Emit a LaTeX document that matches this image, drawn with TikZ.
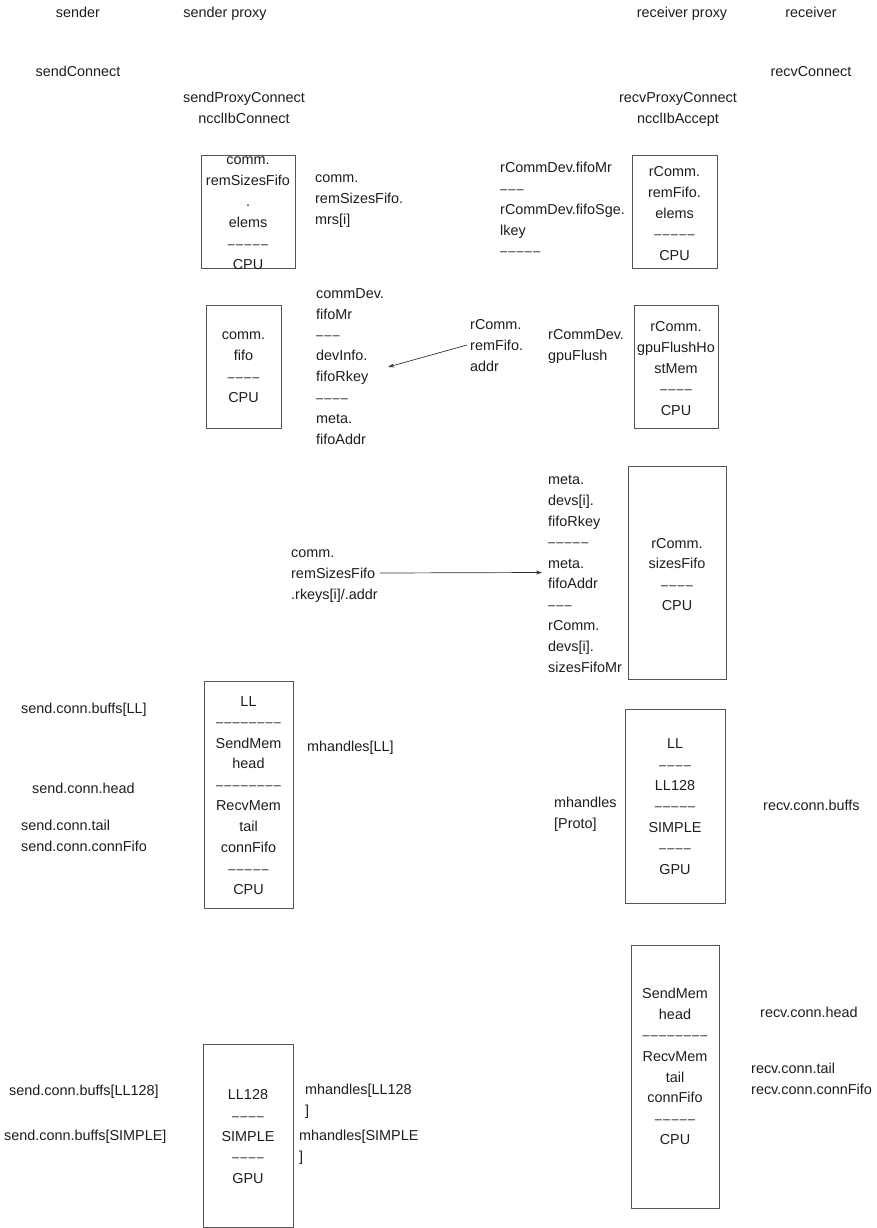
\documentclass[tikz,border=0pt]{standalone}
\usepackage{fontspec}
\setmainfont{Liberation Sans}
\newfontfamily\dashfont[LetterSpace=10]{Liberation Sans}
\newcommand{\dl}[1]{{\dashfont\fontsize{12.6}{20.9}\selectfont\raisebox{0.4pt}{#1}}}
\usetikzlibrary{arrows.meta}
\definecolor{txt}{HTML}{1E1E1E}
\definecolor{edge}{HTML}{555555}
\definecolor{arrc}{HTML}{333333}
\tikzset{
  t/.style={inner sep=0pt, text=txt, font=\fontsize{14.4}{20.9}\selectfont,
    execute at begin node=\strut, execute at end node=\strut},
  tc/.style={t, align=center, yshift=-1pt},
  tcm/.style={t, align=center, yshift=-4.5pt},
  tl/.style={t, align=left, anchor=west, yshift=-1pt},
  tlm/.style={t, align=left, anchor=west, yshift=-4.5pt},
  membox/.style={draw=edge, line width=0.9pt, rectangle, inner sep=0pt},
  conn/.style={draw=arrc, line width=0.7pt, -{Stealth[length=6pt,width=4pt]}}
}
\begin{document}
\begin{tikzpicture}[x=1pt,y=-1pt]
\useasboundingbox (0,0) rectangle (876,1228);
\fill[white] (0,0) rectangle (876,1228);

% headers
\node[tc] (hs) at (78,12) {sender};
\node[tc] (hsp) at (225,12) {sender proxy};
\node[tc] (hrp) at (682,12) {receiver proxy};
\node[tc] (hr) at (811,12) {receiver};
\node[tc] (sc) at (78,71) {sendConnect};
\node[tc] (rc) at (811,71) {recvConnect};
\node[tcm] (spc) at (244,106.5) {sendProxyConnect\\ncclIbConnect};
\node[tcm] (rpc) at (678,106.5) {recvProxyConnect\\ncclIbAccept};

% boxes
\node[membox, minimum width=94, minimum height=113] (b1) at (248,211.5) {};
\node[tcm] (b1t) at (248,212) {comm.\\remSizesFifo\\.\\elems\\\dl{–––––}\\CPU};
\node[membox, minimum width=75, minimum height=123] (b2) at (243.5,366.5) {};
\node[tcm] (b2t) at (243.5,366) {comm.\\fifo\\\dl{––––}\\CPU};
\node[membox, minimum width=85, minimum height=113] (b3) at (674.5,211.5) {};
\node[tcm] (b3t) at (674.5,212) {rComm.\\remFifo.\\elems\\\dl{–––––}\\CPU};
\node[membox, minimum width=84, minimum height=123] (b4) at (676,366.5) {};
\node[tcm] (b4t) at (676,367) {rComm.\\gpuFlushHo\\stMem\\\dl{––––}\\CPU};
\node[membox, minimum width=98, minimum height=213] (b5) at (677,572.5) {};
\node[tcm] (b5t) at (677,573) {rComm.\\sizesFifo\\\dl{––––}\\CPU};
\node[membox, minimum width=89, minimum height=227] (b6) at (248.5,794.5) {};
\node[tcm] (b6t) at (248.5,794) {LL\\\dl{––––––––}\\SendMem\\head\\\dl{––––––––}\\RecvMem\\tail\\connFifo\\\dl{–––––}\\CPU};
\node[membox, minimum width=100, minimum height=194] (b7) at (675,806) {};
\node[tcm] (b7t) at (675,805) {LL\\\dl{––––}\\LL128\\\dl{–––––}\\SIMPLE\\\dl{––––}\\GPU};
\node[membox, minimum width=90, minimum height=183] (b8) at (248,1135.5) {};
\node[tcm] (b8t) at (248,1135) {LL128\\\dl{––––}\\SIMPLE\\\dl{––––}\\GPU};
\node[membox, minimum width=88, minimum height=263] (b9) at (675,1076.5) {};
\node[tcm] (b9t) at (675,1065) {SendMem\\head\\\dl{––––––––}\\RecvMem\\tail\\connFifo\\\dl{–––––}\\CPU};

% labels
\node[tlm] (l1) at (315,198) {comm.\\remSizesFifo.\\mrs[i]};
\node[tlm] (l2) at (316,365) {commDev.\\fifoMr\\\dl{–––}\\devInfo.\\fifoRkey\\\dl{––––}\\meta.\\fifoAddr};
\node[tlm] (l3) at (470,344) {rComm.\\remFifo.\\addr};
\node[tlm] (l4) at (548,343.5) {rCommDev.\\gpuFlush};
\node[tlm] (l5) at (500,208) {rCommDev.fifoMr\\\dl{–––}\\rCommDev.fifoSge.\\lkey\\\dl{–––––}};
\node[tlm] (l6) at (548,572.5) {meta.\\devs[i].\\fifoRkey\\\dl{–––––}\\meta.\\fifoAddr\\\dl{–––}\\rComm.\\devs[i].\\sizesFifoMr};
\node[tlm] (l7) at (291,573) {comm.\\remSizesFifo\\.rkeys[i]/.addr};
\node[tl] (l8) at (21,708) {send.conn.buffs[LL]};
\node[tl] (l9) at (32,788) {send.conn.head};
\node[tlm] (l10) at (21,834.5) {send.conn.tail\\send.conn.connFifo};
\node[tl] (l11) at (307,746) {mhandles[LL]};
\node[tlm] (l12) at (554,811.5) {mhandles\\\relax[Proto]};
\node[tl] (l13) at (763,805) {recv.conn.buffs};
\node[tl] (l14) at (9,1090) {send.conn.buffs[LL128]};
\node[tl] (l15) at (4,1135) {send.conn.buffs[SIMPLE]};
\node[tlm] (l16) at (305,1098.5) {mhandles[LL128\\\relax]};
\node[tlm] (l17) at (299,1144.5) {mhandles[SIMPLE\\\relax]};
\node[tl] (l18) at (760,1012) {recv.conn.head};
\node[tlm] (l19) at (751,1077.5) {recv.conn.tail\\recv.conn.connFifo};

% connectors
\draw[conn] ([xshift=-3pt,yshift=3.5pt]l3.west) -- ([xshift=4pt,yshift=2.5pt]l2.east);
\draw[conn] ([xshift=2pt,yshift=4.5pt]l7.east) -- ([xshift=-6pt,yshift=4.5pt]l6.west);
\end{tikzpicture}
\end{document}
